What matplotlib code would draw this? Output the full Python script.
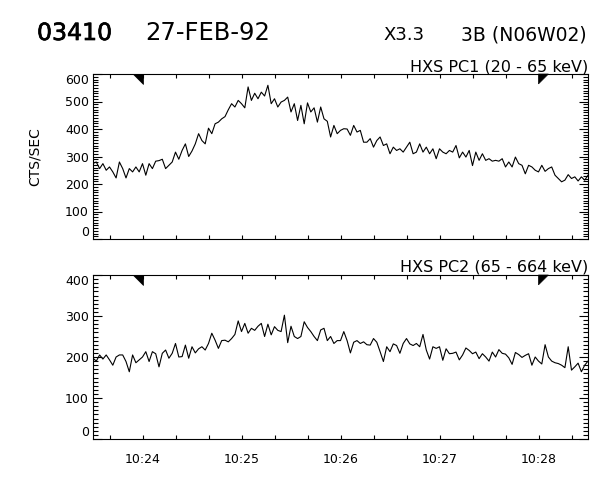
import numpy as np
import matplotlib
matplotlib.use("Agg")
import matplotlib.pyplot as plt
import matplotlib.dates as mdates
import matplotlib.transforms as mtransforms
import matplotlib.patheffects as pe
from matplotlib.ticker import MultipleLocator, FuncFormatter, FixedLocator
from matplotlib.patches import Polygon

# ---------------- data ----------------
start_time = "1992-02-27T10:23:30"
end_time = "1992-02-27T10:28:30"
cadence_s = 2

pc1_counts = [
    275, 280, 256, 274, 250, 262, 244, 222, 280, 256,
    222, 256, 244, 262, 244, 274, 232, 274, 256, 283,
    285, 290, 256, 268, 280, 316, 290, 322, 346, 300,
    320, 346, 383, 358, 346, 403, 383, 419, 425, 437,
    445, 470, 492, 480, 504, 492, 477, 553, 504, 530,
    510, 534, 520, 559, 492, 510, 480, 498, 504, 516,
    462, 492, 431, 486, 419, 495, 462, 477, 425, 480,
    437, 428, 371, 413, 383, 395, 401, 400, 377, 413,
    389, 395, 352, 352, 365, 334, 358, 371, 340, 346,
    310, 334, 322, 328, 316, 334, 352, 310, 316, 346,
    316, 334, 310, 328, 292, 328, 316, 310, 322, 316,
    340, 295, 316, 298, 322, 267, 316, 286, 310, 286,
    292, 283, 286, 283, 292, 262, 280, 262, 298, 274,
    268, 237, 268, 262, 250, 244, 268, 246, 256, 262,
    232, 220, 208, 214, 234, 220, 226, 211, 226, 214, 232,
]

pc2_counts = [
    197, 190, 205, 195, 205, 193, 180, 200, 205, 205,
    189, 164, 205, 186, 193, 200, 213, 189, 213, 208,
    176, 209, 217, 197, 209, 233, 200, 201, 229, 197,
    225, 210, 220, 225, 217, 233, 258, 241, 221, 240,
    241, 237, 245, 255, 288, 262, 282, 258, 270, 265,
    275, 282, 250, 280, 254, 274, 265, 262, 302, 235,
    275, 250, 245, 250, 286, 272, 262, 250, 240, 266,
    270, 240, 250, 233, 240, 240, 262, 240, 210, 236,
    240, 233, 237, 230, 229, 245, 236, 213, 189, 225,
    213, 232, 228, 209, 233, 245, 232, 228, 233, 225,
    255, 217, 195, 225, 221, 225, 192, 220, 208, 209,
    212, 193, 205, 222, 216, 208, 212, 196, 208, 200,
    190, 212, 200, 218, 209, 207, 198, 182, 211, 206,
    199, 204, 208, 180, 200, 190, 183, 230, 200, 190,
    186, 184, 180, 174, 225, 168, 176, 185, 164, 180, 190,
]

interval_marks = ["1992-02-27T10:24:00", "1992-02-27T10:28:00"]

header_id = "03410"
header_date = "27-FEB-92"
header_class = "X3.3"
header_optical = "3B (N06W02)"
panel_titles = ["HXS PC1 (20 - 65 keV)", "HXS PC2 (65 - 664 keV)"]
y_label = "CTS/SEC"
y_limits = [(0, 600), (0, 400)]

# ---------------- figure ----------------
W, H = 600, 480
plt.rcParams['font.family'] = ['DejaVu Sans']
fig = plt.figure(figsize=(W / 100, H / 100), dpi=100)


def px_rect(l, t, r, b):
    return [l / W, 1 - b / H, (r - l) / W, (b - t) / H]


ax1 = fig.add_axes(px_rect(93, 74, 588, 239))
ax2 = fig.add_axes(px_rect(93, 275, 588, 439))

n = len(pc1_counts)
times = np.datetime64(start_time) + np.arange(n) * np.timedelta64(cadence_s, 's')
tnum = mdates.date2num(times)
t0 = mdates.date2num(np.datetime64(start_time))
t1 = mdates.date2num(np.datetime64(end_time))


def fmt_time(v, pos):
    s = int(round((v % 1) * 86400))
    if s % 60 == 0:
        return f"{s // 3600}:{(s // 60) % 60:02d}"
    return ""


for i, (ax, data) in enumerate(zip([ax1, ax2], [pc1_counts, pc2_counts])):
    ax.plot(tnum, data, color='black', lw=0.8)
    ax.set_xlim(t0, t1)
    ax.set_ylim(*y_limits[i])
    ax.xaxis.set_major_locator(mdates.SecondLocator(bysecond=[0, 20, 40]))
    ax.xaxis.set_major_formatter(FuncFormatter(fmt_time))
    ax.yaxis.set_major_locator(FixedLocator(np.arange(y_limits[i][0], y_limits[i][1] + 1, 100)))
    ax.yaxis.set_minor_locator(MultipleLocator(10))
    ax.tick_params(axis='both', which='both', direction='in', top=True, right=True,
                   width=0.8, labelsize=9, colors='black')
    ax.tick_params(axis='y', which='major', length=6.5, pad=3)
    ax.tick_params(axis='y', which='minor', length=3.5, width=0.8)
    ax.tick_params(axis='x', which='major', length=3, pad=10)
    for sp in ax.spines.values():
        sp.set_linewidth(0.8)
    labels = ax.get_yticklabels()
    labels[0].set_va('bottom')
    labels[-1].set_va('top')
    ax.text(1.0, 1.0, panel_titles[i], transform=ax.transAxes, ha='right', va='bottom',
            fontsize=11.5, color='black')
    trans = mtransforms.blended_transform_factory(ax.transData, ax.transAxes)
    w = 6 / 86400.0
    h = 0.06
    xs = mdates.date2num(np.datetime64(interval_marks[0]))
    xe = mdates.date2num(np.datetime64(interval_marks[1]))
    ax.add_patch(Polygon([(xs - w, 1), (xs, 1), (xs, 1 - h)], closed=True,
                         transform=trans, facecolor='black', edgecolor='black', lw=0.5,
                         clip_on=False))
    ax.add_patch(Polygon([(xe, 1), (xe + w, 1), (xe, 1 - h)], closed=True,
                         transform=trans, facecolor='black', edgecolor='black', lw=0.5,
                         clip_on=False))

ax1.tick_params(axis='x', labelbottom=False)
ax1.set_ylabel(y_label, fontsize=10)
ax1.yaxis.set_label_coords(-0.103, 0.5)

# header
fig.text(37 / W, 1 - 33 / H, header_id, fontsize=17, ha='left', va='center', color='black',
         path_effects=[pe.withStroke(linewidth=0.5, foreground='black')])
fig.text(145 / W, 1 - 33 / H, header_date, fontsize=17.5, ha='left', va='center', color='black')
fig.text(383 / W, 1 - 35 / H, header_class, fontsize=13, ha='left', va='center', color='black')
fig.text(587 / W, 1 - 35 / H, header_optical, fontsize=13.5, ha='right', va='center', color='black')

fig.savefig("out.png", dpi=100, facecolor='white')
